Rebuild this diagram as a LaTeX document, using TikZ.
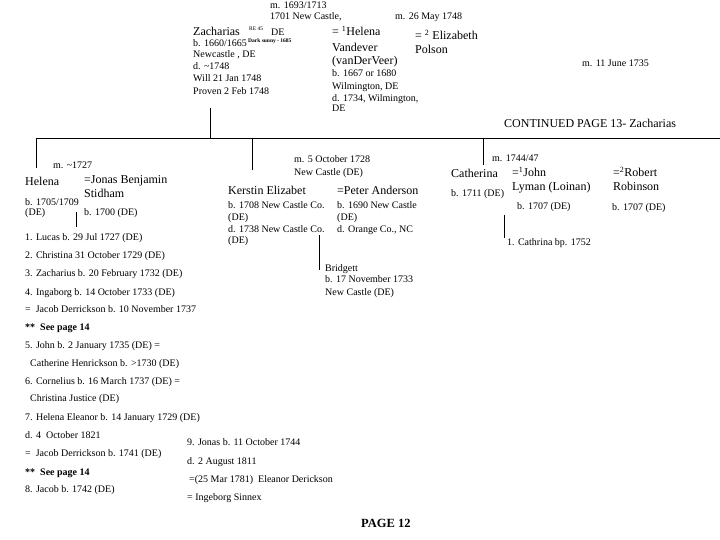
\documentclass[tikz,border=0pt]{standalone}
\usepackage{fontspec}
\setmainfont{Liberation Serif}
\begin{document}
\begin{tikzpicture}[x=1pt,y=-1pt,
  txts/.style={anchor=base west,inner sep=0pt,font=\fontsize{10}{12}\selectfont},
  txtl/.style={anchor=base west,inner sep=0pt,font=\fontsize{12}{14}\selectfont},
  txtb/.style={anchor=base west,inner sep=0pt,font=\fontsize{10}{12}\selectfont\bfseries},
  txtbig/.style={anchor=base west,inner sep=0pt,font=\fontsize{12.5}{14}\selectfont\bfseries},
  txtt/.style={anchor=base west,inner sep=0pt,font=\fontsize{5.5}{6}\selectfont},
  link/.style={draw=black,line width=0.8pt}]
\useasboundingbox (0,0) rectangle (720,540);
\fill[white] (0,0) rectangle (720,540);
% --- Zacharias and wives
\node[txts] (m1) at (270,8.5) {m. 1693/1713};
\node[txts] (m1b) at (270,20) {1701 New Castle,};
\node[txts] (m2) at (395,20) {m. 26 May 1748};
\node[txtl] (zach) at (193,36) {Zacharias};
\node[txtt] (zre) at (249,31) {RE 45};
\node[txts] (zde) at (271,35.5) {DE};
\node[txts] (zb) at (193,46.5) {b. 1660/1665};
\node[txtt] (zbx) at (248,42.5) {\bfseries Dark sunny - 1685};
\node[txts] (zbp) at (193,57.5) {Newcastle , DE};
\node[txts] (zd) at (193,69.5) {d. \textasciitilde1748};
\node[txts] (zw) at (193,81.5) {Will 21 Jan 1748};
\node[txts] (zp) at (193,94.5) {Proven 2 Feb 1748};
\node[txtl] (hel) at (332,36) {= \textsuperscript{1}Helena};
\node[txtl] (hel2) at (332,52) {Vandever};
\node[txtl] (hel3) at (332,65) {(vanDerVeer)};
\node[txts] (helb) at (332,76.5) {b. 1667 or 1680};
\node[txts] (helbp) at (332,89.5) {Wilmington, DE};
\node[txts] (held) at (332,101.5) {d. 1734, Wilmington,};
\node[txts] (held2) at (332,111.5) {DE};
\node[txtl] (eli) at (415,40) {= \textsuperscript{2} Elizabeth};
\node[txtl] (eli2) at (415,54) {Polson};
\node[txts] (m3) at (582,66.5) {m. 11 June 1735};
\node[txtl] (cont) at (504,128) {CONTINUED PAGE 13- Zacharias};
% --- tree lines
\coordinate (ztop) at (210,108);
\coordinate (zbar) at (210,138);
\coordinate (barL) at (36,138);
\coordinate (barR) at (720,138);
\coordinate (hdrop) at (36,168);
\coordinate (ktop) at (252,138);
\coordinate (kdrop) at (252,170);
\coordinate (ctop) at (483,138);
\coordinate (cdrop) at (483,165);
\draw[link] (ztop) -- (zbar);
\draw[link] (barL) -- (barR);
\draw[link] (barL) -- (hdrop);
\draw[link] (ktop) -- (kdrop);
\draw[link] (ctop) -- (cdrop);
% --- Helena family
\node[txts] (hm) at (53,168.5) {m. \textasciitilde1727};
\node[txtl] (hn) at (25,186) {Helena};
\node[txtl] (jn) at (84,184) {=Jonas Benjamin};
\node[txtl] (jn2) at (84,198) {Stidham};
\node[txts] (hb) at (25,205.5) {b. 1705/1709};
\node[txts] (hb2) at (25,215.5) {(DE)};
\node[txts] (jb) at (84,215.5) {b. 1700 (DE)};
\coordinate (lt) at (76,212);
\coordinate (lb) at (76,227);
\draw[link] (lt) -- (lb);
\node[txts] (c1) at (25,240.5) {1. Lucas b. 29 Jul 1727 (DE)};
\node[txts] (c2) at (25,258.5) {2. Christina 31 October 1729 (DE)};
\node[txts] (c3) at (25,276.5) {3. Zacharius b. 20 February 1732 (DE)};
\node[txts] (c4) at (25,295.5) {4. Ingaborg b. 14 October 1733 (DE)};
\node[txts] (c4s) at (25,312.5) {=\ \ Jacob Derrickson b. 10 November 1737};
\node[txtb] (c4p) at (25,330.5) {** \ See page 14};
\node[txts] (c5) at (25,348.5) {5. John b. 2 January 1735 (DE) =};
\node[txts] (c5s) at (30,366.5) {Catherine Henrickson b. >1730 (DE)};
\node[txts] (c6) at (25,384.5) {6. Cornelius b. 16 March 1737 (DE) =};
\node[txts] (c6s) at (30,401.5) {Christina Justice (DE)};
\node[txts] (c7) at (25,420.5) {7. Helena Eleanor b. 14 January 1729 (DE)};
\node[txts] (c7d) at (25,438.5) {d. 4\ \ October 1821};
\node[txts] (c7s) at (25,456.5) {=\ \ Jacob Derrickson b. 1741 (DE)};
\node[txtb] (c7p) at (25,475.5) {** \ See page 14};
\node[txts] (c8) at (25,492.5) {8. Jacob b. 1742 (DE)};
\node[txts] (c9) at (187,445.5) {9. Jonas b. 11 October 1744};
\node[txts] (c9d) at (187,464.5) {d. 2 August 1811};
\node[txts] (c9s) at (189,482.5) {=(25 Mar 1781)\ \ Eleanor Derickson};
\node[txts] (c9t) at (187,500.5) {= Ingeborg Sinnex};
\node[txtbig] (pg) at (361,527) {PAGE 12};
% --- Kerstin family
\node[txts] (km) at (294,162.5) {m. 5 October 1728};
\node[txts] (km2) at (294,175.5) {New Castle (DE)};
\node[txtl] (kn) at (228,195) {Kerstin Elizabet};
\node[txtl] (pn) at (337,195) {=Peter Anderson};
\node[txts] (kb) at (228,208.5) {b. 1708 New Castle Co.};
\node[txts] (kb2) at (228,220.5) {(DE)};
\node[txts] (kd) at (228,232.5) {d. 1738 New Castle Co.};
\node[txts] (kd2) at (228,243.5) {(DE)};
\node[txts] (pb) at (337,208.5) {b. 1690 New Castle};
\node[txts] (pb2) at (337,220.5) {(DE)};
\node[txts] (pd) at (337,232.5) {d. Orange Co., NC};
\coordinate (bt) at (319,235);
\coordinate (bb) at (319,270);
\draw[link] (bt) -- (bb);
\node[txts] (br) at (325,271.5) {Bridgett};
\node[txts] (brb) at (325,282.5) {b. 17 November 1733};
\node[txts] (brp) at (325,295.5) {New Castle (DE)};
% --- Catherina family
\node[txts] (cm) at (492,161.5) {m. 1744/47};
\node[txtl] (cn) at (451,178) {Catherina};
\node[txtl] (jl) at (512,177) {=\textsuperscript{1}John};
\node[txtl] (jl2) at (512,191) {Lyman (Loinan)};
\node[txtl] (rr) at (613,177) {=\textsuperscript{2}Robert};
\node[txtl] (rr2) at (613,191) {Robinson};
\node[txts] (cb) at (451,196.5) {b. 1711 (DE)};
\node[txts] (jlb) at (517,209.5) {b. 1707 (DE)};
\node[txts] (rrb) at (612,210.5) {b. 1707 (DE)};
\coordinate (ct) at (504,215);
\coordinate (cbt) at (504,238);
\draw[link] (ct) -- (cbt);
\node[txts] (cc1) at (507,245.5) {1. Cathrina bp. 1752};
\end{tikzpicture}
\end{document}
